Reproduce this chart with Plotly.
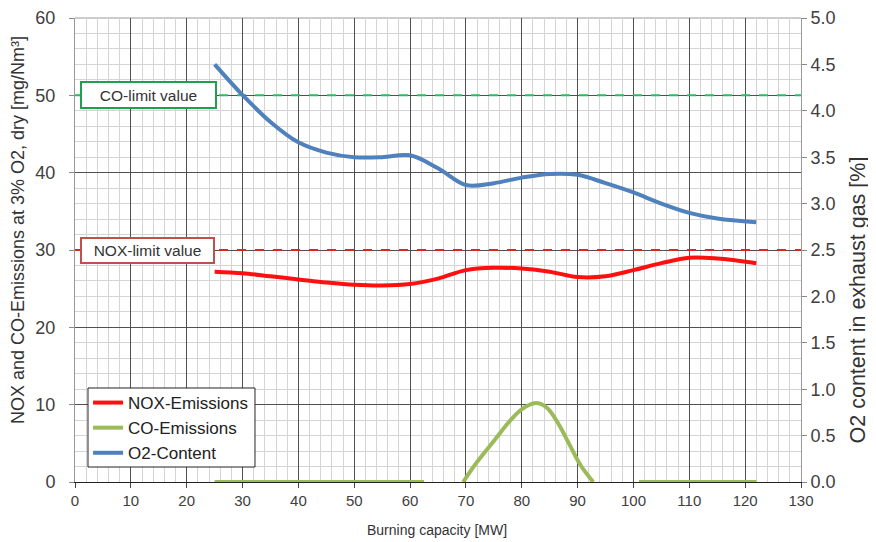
import plotly.graph_objects as go

# ---- data ----
o2_x = [25, 30, 35, 40, 45, 50, 55, 60, 65, 70, 75, 80, 85, 90, 95, 100, 105, 110, 115, 122]
o2_y = [4.5, 4.17, 3.88, 3.66, 3.55, 3.5, 3.5, 3.52, 3.38, 3.2, 3.22, 3.28, 3.32, 3.31, 3.22, 3.12, 3.0, 2.9, 2.84, 2.8]

nox_x = [25, 30, 35, 40, 45, 50, 55, 60, 65, 70, 75, 80, 85, 90, 95, 100, 105, 110, 115, 122]
nox_y = [27.2, 27.0, 26.6, 26.2, 25.8, 25.5, 25.4, 25.6, 26.3, 27.4, 27.7, 27.6, 27.2, 26.5, 26.6, 27.4, 28.3, 29.0, 28.9, 28.3]

co_x = [25, 40, 62.5, None, 69.5, 72, 75, 78, 80, 82.5, 84.5, 86.5, 88.5, 90.5, 92.8, None, 101, 110, 122]
co_y = [0, 0, 0, None, 0, 2.6, 5.3, 8.0, 9.4, 10.2, 9.6, 7.6, 4.9, 2.2, 0, None, 0, 0, 0]

limit_x = [0, 130]
co_limit = 50
nox_limit = 30

x_ticks = list(range(0, 131, 10))
y_ticks = list(range(0, 61, 10))
y2_ticks = [i * 0.5 for i in range(11)]

FONT = "Liberation Sans, Arial, sans-serif"

fig = go.Figure()

fig.add_trace(go.Scatter(x=limit_x, y=[co_limit] * 2, mode="lines", showlegend=False,
                         line=dict(color="#1fc25a", width=2, dash="dash"), hoverinfo="skip"))
fig.add_trace(go.Scatter(x=limit_x, y=[nox_limit] * 2, mode="lines", showlegend=False,
                         line=dict(color="#e02424", width=2, dash="dash"), hoverinfo="skip"))

fig.add_trace(go.Scatter(x=nox_x, y=nox_y, mode="lines", name="NOX-Emissions",
                         line=dict(color="#ff1010", width=4, shape="spline")))
fig.add_trace(go.Scatter(x=co_x, y=co_y, mode="lines", name="CO-Emissions", connectgaps=False,
                         line=dict(color="#9bbb59", width=4, shape="spline")))
fig.add_trace(go.Scatter(x=o2_x, y=o2_y, mode="lines", name="O2-Content", yaxis="y2",
                         line=dict(color="#4f81bd", width=4, shape="spline")))

fig.add_annotation(x=13.2, y=co_limit, xref="x", yref="y", text="CO-limit value", showarrow=False,
                   font=dict(family=FONT, size=15.5, color="#333"), bgcolor="white",
                   bordercolor="#1fa04f", borderwidth=2, width=131, height=22, borderpad=1)
fig.add_annotation(x=12.9, y=nox_limit, xref="x", yref="y", text="NOX-limit value", showarrow=False,
                   font=dict(family=FONT, size=15.5, color="#333"), bgcolor="white",
                   bordercolor="#c0504d", borderwidth=2, width=129, height=21, borderpad=1)

# axis titles placed as annotations
fig.add_annotation(x=-0.0785, y=0.543, xref="paper", yref="paper", textangle=-90, showarrow=False,
                   text="NOX and CO-Emissions at 3% O2, dry [mg/Nm³]",
                   font=dict(family=FONT, size=18, color="#333"), xanchor="center", yanchor="middle")
fig.add_annotation(x=1.079, y=0.392, xref="paper", yref="paper", textangle=-90, showarrow=False,
                   text="O2 content in exhaust gas [%]",
                   font=dict(family=FONT, size=21.5, color="#333"), xanchor="center", yanchor="middle")
fig.add_annotation(x=0.4986, y=-0.103, xref="paper", yref="paper", showarrow=False,
                   text="Burning capacity [MW]",
                   font=dict(family=FONT, size=14, color="#333"), xanchor="center", yanchor="middle")

# legend frame
fig.add_shape(type="rect", xref="paper", yref="paper", x0=0.0179, x1=0.2479, y0=0.0323, y1=0.2026,
              line=dict(color="#222", width=1), fillcolor="white", layer="above")

# page body has an 8px margin: figure is 868x534 and sits at (8,8)
fig.update_layout(
    width=868, height=534,
    margin=dict(l=67, r=75, t=10, b=60, autoexpand=False),
    paper_bgcolor="white", plot_bgcolor="white",
    font=dict(family=FONT, size=16, color="#404040"),
    showlegend=True,
    legend=dict(x=0.018, y=0.209, xanchor="left", yanchor="top",
                bgcolor="rgba(0,0,0,0)", borderwidth=0,
                font=dict(family=FONT, size=17, color="#222"),
                itemwidth=30, tracegroupgap=0),
    xaxis=dict(range=[0, 130], tickvals=x_ticks, ticks="outside", ticklen=5, tickcolor="#444",
               tickfont=dict(size=15), automargin=False,
               showgrid=True, gridcolor="#505050", gridwidth=1,
               minor=dict(dtick=2, showgrid=True, gridcolor="#d4d4d4", gridwidth=1),
               showline=True, linecolor="#222", linewidth=1, mirror=False, zeroline=False),
    yaxis=dict(range=[0, 60], tickvals=y_ticks, ticks="outside", ticklen=5, tickcolor="#888",
               tickfont=dict(size=18), automargin=False, ticklabelstandoff=10,
               showgrid=True, gridcolor="#505050", gridwidth=1,
               minor=dict(dtick=2, showgrid=True, gridcolor="#d4d4d4", gridwidth=1),
               showline=True, linecolor="#999", linewidth=1, zeroline=False),
    yaxis2=dict(range=[0, 5], tickvals=y2_ticks, tickformat=".1f", overlaying="y", side="right",
                tickfont=dict(size=18), automargin=False,
                ticks="outside", ticklen=5, tickcolor="#888", showgrid=False, zeroline=False,
                showline=True, linecolor="#999", linewidth=1),
)

# top border
fig.add_shape(type="line", xref="paper", yref="paper", x0=0, x1=1, y0=1, y1=1,
              line=dict(color="#999", width=1), layer="below")

fig.write_html("out.html")
